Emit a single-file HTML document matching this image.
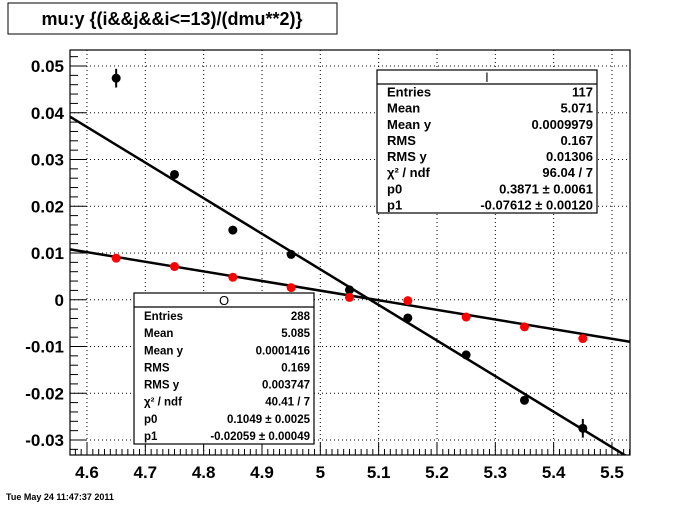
<!DOCTYPE html>
<html><head><meta charset="utf-8"><style>
body{margin:0;background:#fff;}
svg{display:block;font-family:"Liberation Sans",sans-serif;}
</style></head><body>
<svg id="c" width="700" height="507" viewBox="0 0 700 507">
<rect x="0" y="0" width="700" height="507" fill="#fff"/>
<g>
<rect x="8" y="3" width="329" height="31" fill="#fff" stroke="#000" stroke-width="1"/>
<text x="172" y="25" text-anchor="middle" font-size="18" font-weight="bold">mu:y {(i&amp;&amp;j&amp;&amp;i&lt;=13)/(dmu**2)}</text>
</g>
<defs><clipPath id="pc"><rect x="70" y="50" width="560" height="405"/></clipPath></defs>
<g id="grid"></g>
<g id="axes"></g>
<g id="marks" clip-path="url(#pc)"></g>
<rect x="70" y="50" width="560" height="405" fill="none" stroke="#000" stroke-width="1.2"/>
<g id="stats"></g>
<text x="6" y="500" font-size="9" font-weight="bold">Tue May 24 11:47:37 2011</text>
</svg>
<script>
const xCats = [4.65,4.75,4.85,4.95,5.05,5.15,5.25,5.35,5.45];
const blackVals = [0.0474,0.0268,0.0149,0.0097,0.0021,-0.0039,-0.0118,-0.0215,-0.0275];
const blackErrs = [0.002,0.0008,0.0004,0.0004,0.0004,0.0004,0.0004,0.0006,0.002];
const redVals = [0.0089,0.0071,0.0048,0.0026,0.0005,-0.0002,-0.0037,-0.0058,-0.0083];
const blackFit = [0.3871,-0.07612];
const redFit = [0.1049,-0.02059];
const xTicks = [4.6,4.7,4.8,4.9,5.0,5.1,5.2,5.3,5.4,5.5];
const xTickLabels = ["4.6","4.7","4.8","4.9","5","5.1","5.2","5.3","5.4","5.5"];
const yTicks = [0.05,0.04,0.03,0.02,0.01,0,-0.01,-0.02,-0.03];
const yTickLabels = ["0.05","0.04","0.03","0.02","0.01","0","-0.01","-0.02","-0.03"];
const statsL = [["Entries","117"],["Mean","5.071"],["Mean y","0.0009979"],["RMS","0.167"],["RMS y","0.01306"],["\u03C7\u00B2 / ndf","96.04 / 7"],["p0","0.3871 \u00B1 0.0061"],["p1","-0.07612 \u00B1 0.00120"]];
const statsO = [["Entries","288"],["Mean","5.085"],["Mean y","0.0001416"],["RMS","0.169"],["RMS y","0.003747"],["\u03C7\u00B2 / ndf","40.41 / 7"],["p0","0.1049 \u00B1 0.0025"],["p1","-0.02059 \u00B1 0.00049"]];

const NS="http://www.w3.org/2000/svg";
const X0=70,X1=630,Y0=50,Y1=455;
const xMin=4.6-17/583.3, xMax=4.6+543/583.3;
const yMax=0.05+16/4675, yMin=-0.03-15/4675;
const sx=v=>X0+(v-xMin)/(xMax-xMin)*(X1-X0);
const sy=v=>Y1-(v-yMin)/(yMax-yMin)*(Y1-Y0);
function mk(tag,attrs,parent){const e=document.createElementNS(NS,tag);for(const k in attrs)e.setAttribute(k,attrs[k]);parent.appendChild(e);return e;}
const grid=document.getElementById('grid'),axes=document.getElementById('axes'),marks=document.getElementById('marks'),stats=document.getElementById('stats');

xTicks.forEach((t,i)=>{
  const g=mk('line',{x1:sx(t),x2:sx(t),y1:Y0,y2:Y1,stroke:'#000','stroke-width':1,'stroke-dasharray':'1,3'},grid);
  
  
  const tk=mk('line',{x1:sx(t),x2:sx(t),y1:Y1,y2:Y1-12,stroke:'#000','stroke-width':1},axes);
  
  
  const lb=mk('text',{x:sx(t),y:478,'text-anchor':'middle','font-size':17,'font-weight':'bold'},axes);
  lb.textContent=xTickLabels[i];
  
  
});
for(let k=0;k<100;k++){const v=4.57+k*0.01; if(v<xMin||v>xMax)continue;
  if(Math.abs(Math.round(v*10)-v*10)<1e-6)continue;
  const m=mk('line',{x1:sx(v),x2:sx(v),y1:Y1,y2:Y1-6,stroke:'#000','stroke-width':1},axes);
  
  }
yTicks.forEach((t,i)=>{
  const g=mk('line',{x1:X0,x2:X1,y1:sy(t),y2:sy(t),stroke:'#000','stroke-width':1,'stroke-dasharray':'1,3'},grid);
  
  
  const tk=mk('line',{x1:X0,x2:X0+16,y1:sy(t),y2:sy(t),stroke:'#000','stroke-width':1},axes);
  
  
  const lb=mk('text',{x:64,y:sy(t)+6,'text-anchor':'end','font-size':17,'font-weight':'bold'},axes);
  lb.textContent=yTickLabels[i];
  
  
});
for(let k=-17;k<=27;k++){const v=k*0.002; if(v<yMin||v>yMax)continue; if(k%5===0)continue;
  const m=mk('line',{x1:X0,x2:X0+8,y1:sy(v),y2:sy(v),stroke:'#000','stroke-width':1},axes);
  
  }

[[blackFit,xMax],[redFit,xMax]].forEach(([p,xe],i)=>{
  const l=mk('line',{x1:sx(xMin),y1:sy(p[0]+p[1]*xMin),x2:sx(xe),y2:sy(p[0]+p[1]*xe),stroke:'#000','stroke-width':2.5},marks);
  
  
});
xCats.forEach((x,i)=>{
  const e=mk('line',{x1:sx(x),x2:sx(x),y1:sy(blackVals[i]+blackErrs[i]),y2:sy(blackVals[i]-blackErrs[i]),stroke:'#000','stroke-width':2},marks);
  
  
  const c=mk('circle',{cx:sx(x),cy:sy(blackVals[i]),r:4.5,fill:'#000'},marks);
  
  
  const r=mk('circle',{cx:sx(x),cy:sy(redVals[i]),r:4.5,fill:'#f00'},marks);
  
  
});

function box(x,y,w,h,title,rows,name,valSize){
  const g=mk('g',{},stats);
  
  
  mk('rect',{x:x,y:y,width:w,height:h,fill:'#fff',stroke:'#000','stroke-width':1.2},g);
  mk('line',{x1:x,x2:x+w,y1:y+14,y2:y+14,stroke:'#000','stroke-width':1.2},g);
  const t=mk('text',{x:x+w/2,y:y+12,'text-anchor':'middle','font-size':13},g);t.textContent=title;
  const rh=(h-14)/rows.length;
  rows.forEach((r,i)=>{
    const yy=y+14+rh*(i+0.5)+4.5;
    const a=mk('text',{x:x+10,y:yy,'font-size':valSize,'font-weight':'bold'},g);a.textContent=r[0];
    const b=mk('text',{x:x+w-4,y:yy,'text-anchor':'end','font-size':valSize,'font-weight':'bold'},g);b.textContent=r[1];
  });
}
box(377,70,220,143,"l",statsL,'stats-box-l',13);
box(134,293,180,151,"O",statsO,'stats-box-o',11.5);
</script>
</body></html>
